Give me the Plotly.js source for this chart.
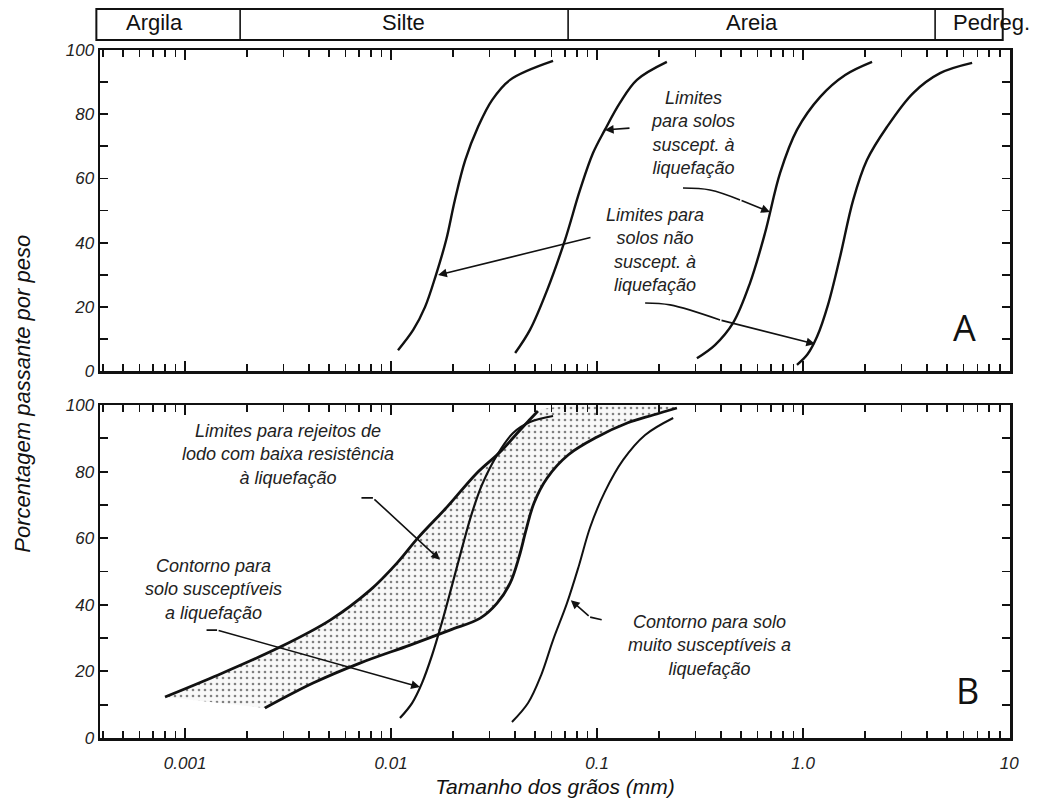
<!DOCTYPE html>
<html>
<head>
<meta charset="utf-8">
<script src="https://cdn.plot.ly/plotly-3.0.1.min.js"></script>
<style>html,body{margin:0;padding:0;background:#fff}#chart{width:1046px;height:812px}</style>
</head>
<body>
<div id="chart"></div>
<script>
// ---------- data (grain size in mm, percent passing) ----------
// Panel A
const a1x = [0.0108,0.0128,0.0146,0.0165,0.0185,0.0204,0.0229,0.0264,0.0309,0.0378,0.0611];
const a1y = [6.5,12.8,19.9,29.9,40.8,53.3,65.7,76.0,84.4,90.7,96.6];
const a2x = [0.0400,0.0472,0.0572,0.0698,0.0826,0.0955,0.109,0.129,0.156,0.218];
const a2y = [5.6,12.8,25.2,40.8,56.4,67.9,75.1,83.5,90.7,96.3];
const a3x = [0.305,0.373,0.457,0.552,0.653,0.773,0.933,1.21,1.60,2.16];
const a3y = [4.0,8.1,15.0,27.4,43.0,61.7,75.1,85.4,92.2,96.3];
const a4x = [0.933,1.05,1.17,1.32,1.51,1.75,2.04,2.55,3.42,4.62,6.61];
const a4y = [1.9,5.2,10.8,20.6,35.5,53.3,65.7,76.0,86.6,92.8,96.0];
// Panel B
const b1x = [0.000799,0.00137,0.00289,0.00506,0.00791,0.0107,0.0135,0.0187,0.0261,0.0338,0.0423,0.0516];
const b1y = [12.3,18.3,27.3,35.4,44.4,52.6,60.1,69.4,79.6,85.9,92.5,98.2];
const b2x = [0.01104,0.01264,0.01412,0.01581,0.01766,0.01977,0.0221,0.0247,0.0276,0.0327,0.0391,0.0472,0.0611];
const b2y = [6.0,10.5,16.5,24.9,34.8,45.9,57.1,67.6,76.0,85.0,91.6,94.9,96.7];
const b3x = [0.00244,0.00418,0.00706,0.01236,0.0193,0.0271,0.0327,0.0378,0.0418,0.0452,0.0494,0.0572,0.0723,0.100,0.140,0.187,0.244];
const b3y = [9.0,16.5,22.5,27.9,32.4,36.0,40.5,46.5,54.4,62.5,70.6,78.1,85.0,90.4,94.6,97.0,99.1];
const b4x = [0.0386,0.0462,0.0535,0.0611,0.0714,0.0817,0.0925,0.109,0.1337,0.171,0.234];
const b4y = [4.8,10.5,18.9,29.4,40.5,51.9,63.3,73.9,83.5,91.0,96.1];

// Soil classes header
const classNames = ["Argila","Silte","Areia","Pedreg."];
const classBounds = [0.00185, 0.0723, 4.37];

// Axis ticks
const xTickVals = [0.001,0.01,0.1,1,10];
const xTickText = ["0.001","0.01","0.1","1.0","10"];
const yTickVals = [0,20,40,60,80,100];
const yTickText = ["0","20","40","60","80","100"];

// Leader lines (callouts)
const leadA2x = [0.261,0.353,0.494]; const leadA2y = [57.0,56.4,53.3];
const leadA4x = [0.171,0.226,0.395]; const leadA4y = [21.2,20.6,15.9];

// ---------- build ----------
const L = Math.log10;
const xRange = [-3.413, 1.004];
const minorVals = [];
for (let e = -4; e <= 0; e++) for (let d = 2; d <= 9; d++) minorVals.push(d * Math.pow(10, e));

const lineStyle = (w) => ({color:'#111', width:w, shape:'spline', smoothing:1});
function curve(x, y, xa, ya, w) {
  return {x, y, xaxis:xa, yaxis:ya, mode:'lines', line:lineStyle(w), hoverinfo:'skip', showlegend:false};
}
const shadeX = b1x.concat(b3x.slice().reverse());
const shadeY = b1y.concat(b3y.slice().reverse());

const traces = [
  {x:shadeX, y:shadeY, xaxis:'x2', yaxis:'y2', mode:'lines', fill:'toself',
   line:{width:0, color:'rgba(0,0,0,0)', shape:'spline', smoothing:1},
   fillcolor:'#f7f7f7',
   fillpattern:{shape:'.', fgcolor:'#808080', bgcolor:'#f8f8f8', size:6, solidity:0.15},
   hoverinfo:'skip', showlegend:false},
  curve(a1x,a1y,'x','y',2.4), curve(a2x,a2y,'x','y',2.4), curve(a3x,a3y,'x','y',2.4), curve(a4x,a4y,'x','y',2.4),
  curve(b1x,b1y,'x2','y2',2.8), curve(b2x,b2y,'x2','y2',2.2), curve(b3x,b3y,'x2','y2',2.8), curve(b4x,b4y,'x2','y2',2.0),
  {x:leadA2x, y:leadA2y, xaxis:'x', yaxis:'y', mode:'lines', line:{color:'#111', width:1.6, shape:'spline'}, hoverinfo:'skip', showlegend:false},
  {x:leadA4x, y:leadA4y, xaxis:'x', yaxis:'y', mode:'lines', line:{color:'#111', width:1.6, shape:'spline'}, hoverinfo:'skip', showlegend:false}
];

const annFont = {family:'Liberation Sans, Arial, sans-serif', size:18, style:'italic', color:'#222'};
function txt(text, x, y, xr, yr) {
  return {text, x:L(x), y, xref:xr, yref:yr, showarrow:false, font:annFont, align:'center', xanchor:'center', yanchor:'middle'};
}
function arrow(tx, ty, hx, hy, xr, yr, head) {
  return {text:'', x:L(hx), y:hy, ax:L(tx), ay:ty, xref:xr, yref:yr, axref:xr, ayref:yr,
          showarrow:true, arrowhead:head, arrowsize:1.1, arrowwidth:1.6, arrowcolor:'#111', standoff:0};
}

const annotations = [
  txt('Limites<br>para solos<br>suscept. à<br>liquefação', 0.292, 74.1, 'x', 'y'),
  txt('Limites para<br>solos não<br>suscept. à<br>liquefação', 0.191, 37.7, 'x', 'y'),
  arrow(0.146, 75.7, 0.109, 75.1, 'x', 'y', 2),
  arrow(0.494, 53.3, 0.690, 49.5, 'x', 'y', 2),
  arrow(0.0944, 41.7, 0.0169, 29.9, 'x', 'y', 2),
  arrow(0.395, 15.9, 1.143, 8.4, 'x', 'y', 2),
  txt('Limites para rejeitos de<br>lodo com baixa resistência<br>à liquefação', 0.00316, 85.0, 'x2', 'y2'),
  txt('Contorno para<br>solo susceptíveis<br>a liquefação', 0.00137, 44.7, 'x2', 'y2'),
  txt('Contorno para solo<br>muito susceptíveis a<br>liquefação', 0.353, 27.9, 'x2', 'y2'),
  arrow(0.00706, 72.1, 0.00816, 72.1, 'x2', 'y2', 0),
  arrow(0.00816, 72.1, 0.01726, 53.5, 'x2', 'y2', 2),
  arrow(0.00125, 32.4, 0.00143, 32.4, 'x2', 'y2', 0),
  arrow(0.00143, 32.4, 0.0138, 15.3, 'x2', 'y2', 2),
  arrow(0.107, 35.4, 0.0925, 36.3, 'x2', 'y2', 0),
  arrow(0.0925, 36.3, 0.0745, 41.4, 'x2', 'y2', 2),
  {text:'A', x:L(6.04), y:13.7, xref:'x', yref:'y', showarrow:false, font:{family:'Open Sans, Liberation Sans, sans-serif', size:36, color:'#111'}},
  {text:'B', x:L(6.3), y:14.4, xref:'x2', yref:'y2', showarrow:false, font:{family:'Open Sans, Liberation Sans, sans-serif', size:36, color:'#111'}},
  {text:'Porcentagem passante por peso', x:-0.086, y:0.5, xref:'paper', yref:'paper', textangle:-90,
   xanchor:'center', yanchor:'middle', showarrow:false,
   font:{family:'Liberation Sans, Arial, sans-serif', size:22, style:'italic', color:'#111'}}
];

// header labels
const headerCenters = [0.0604, 0.333, 0.7165, 0.98];
classNames.forEach((n, i) => annotations.push({text:n, x:headerCenters[i], y:1.0405, xref:'paper', yref:'paper',
  xanchor:'center', yanchor:'middle', showarrow:false, font:{family:'Liberation Sans, Arial, sans-serif', size:22, color:'#111'}}));

const shapes = [
  {type:'rect', xref:'paper', yref:'paper', x0:-0.004, x1:0.992, y0:1.0145, y1:1.0596, line:{color:'#111', width:2}}
];
classBounds.forEach(b => shapes.push({type:'line', xref:'x', yref:'paper', x0:b, x1:b, y0:1.0145, y1:1.0596, line:{color:'#111', width:1.6}}));

const tickFont = {family:'Liberation Sans, Arial, sans-serif', size:17, style:'italic', color:'#222'};
const xBase = {
  type:'log', range:xRange, domain:[0,1], showgrid:false, zeroline:false,
  showline:true, linecolor:'#111', linewidth:2.5, mirror:'ticks',
  ticks:'inside', ticklen:10, tickwidth:1.8, tickcolor:'#111',
  tickmode:'array', tickvals:xTickVals, ticktext:xTickText, tickfont:tickFont,
  minor:{tickmode:'array', tickvals:minorVals, ticks:'inside', ticklen:7, tickwidth:1.5, tickcolor:'#111', showgrid:false}
};
const yBase = {
  range:[0,100], showgrid:false, zeroline:false,
  showline:true, linecolor:'#111', linewidth:2.5, mirror:'ticks',
  ticks:'inside', ticklen:8, tickwidth:1.8, tickcolor:'#111',
  tickmode:'array', tickvals:yTickVals, ticktext:yTickText, tickfont:tickFont,
  minor:{dtick:10, ticks:'inside', ticklen:8, tickwidth:1.8, tickcolor:'#111', showgrid:false}
};

const layout = {
  width:1046, height:812,
  margin:{l:100, r:36, t:50, b:74},
  paper_bgcolor:'#fff', plot_bgcolor:'#fff',
  font:{family:'Liberation Sans, Arial, sans-serif', color:'#111'},
  showlegend:false,
  xaxis:Object.assign({}, xBase, {anchor:'y', showticklabels:false}),
  yaxis:Object.assign({}, yBase, {anchor:'x', domain:[0.5334,1]}),
  xaxis2:Object.assign({}, xBase, {anchor:'y2', showticklabels:true, ticklabelstandoff:8,
    title:{text:'Tamanho dos grãos (mm)', standoff:8, font:{family:'Liberation Sans, Arial, sans-serif', size:21, style:'italic', color:'#111'}}}),
  yaxis2:Object.assign({}, yBase, {anchor:'x2', domain:[0,0.484]}),
  annotations, shapes
};

Plotly.newPlot('chart', traces, layout, {staticPlot:true, displayModeBar:false});
</script>
</body>
</html>
